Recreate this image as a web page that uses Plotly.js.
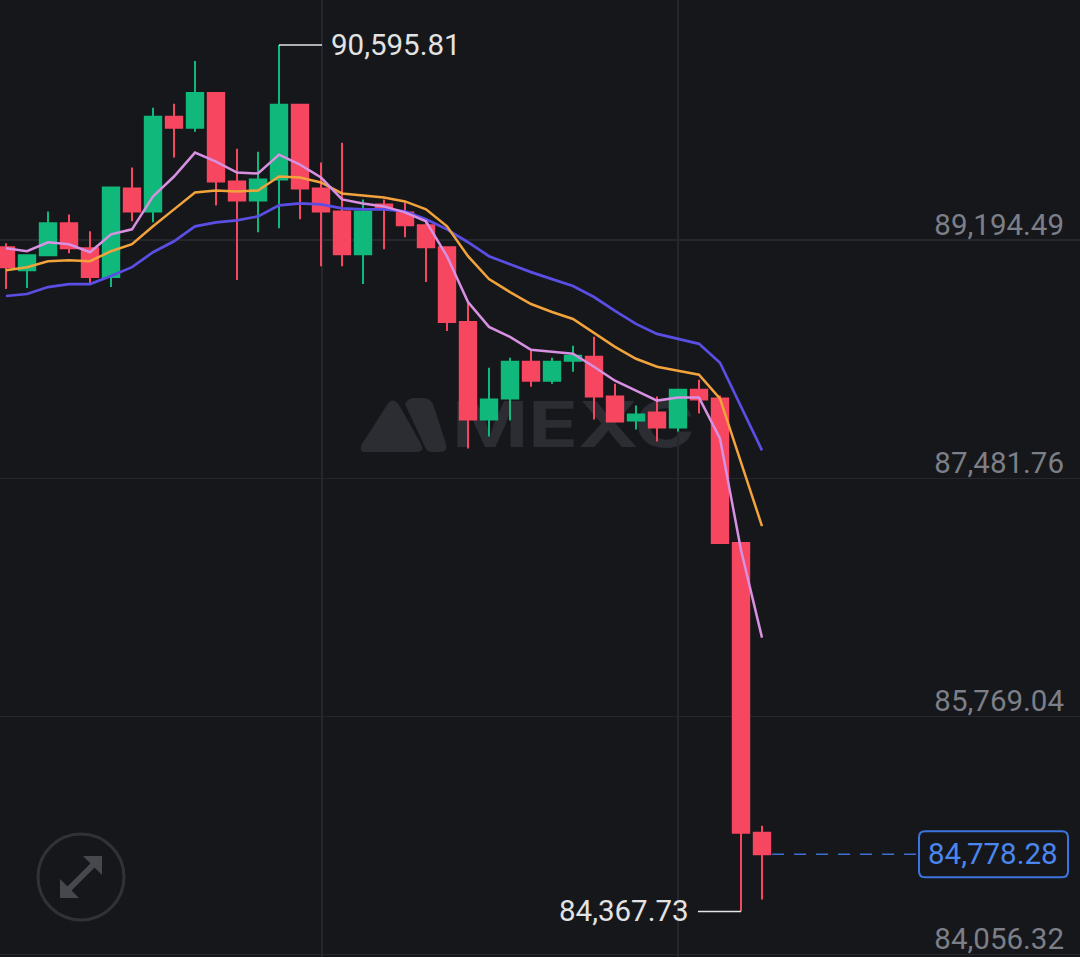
<!DOCTYPE html>
<html><head><meta charset="utf-8">
<script src="https://cdn.plot.ly/plotly-3.0.1.min.js"></script>
<style>
html,body{margin:0;padding:0;background:#16171b;width:1080px;height:957px;overflow:hidden;}
#bg{position:absolute;left:0;top:0;width:1080px;height:957px;}
#wmtext{position:absolute;left:452px;top:388px;font-family:Inter,'Noto Sans',sans-serif;font-weight:700;font-size:63px;line-height:72px;color:#2b2d32;transform:scaleX(1.3);transform-origin:left top;letter-spacing:0px;white-space:nowrap;}
#chart{position:absolute;left:0;top:0;width:1080px;height:957px;}
</style></head>
<body>
<div id="bg">
<svg width="1080" height="957" style="position:absolute;left:0;top:0">
  <path d="M366 452 L416 452 Q425 452 421 444 L399 405 Q393 396 387 405 L362 444 Q358 452 366 452 Z" fill="#2b2d32"/>
  <path d="M405 404 Q408 398 414 398 L423 398 Q430 398 433 404 L446 444 Q448 452 440 452 L432 452 Q427 452 425 447 Z" fill="#2b2d32"/>
  <circle cx="81" cy="877" r="43" fill="none" stroke="#303237" stroke-width="3"/>
  <line x1="69" y1="889" x2="93" y2="865" stroke="#46484e" stroke-width="6"/>
  <polygon points="60,898 60,879 79,898" fill="#46484e"/>
  <polygon points="102,856 83,856 102,875" fill="#46484e"/>
</svg>
<div id="wmtext">MEXC</div>
</div>
<div id="chart"></div>
<script>
// ---- data ----
const open  = [89142.6, 88977.9, 89085.3, 89314.4, 89135.4, 88927.8, 89564.9, 89400.3, 90080.4, 90001.6,
               90252.2, 89615.1, 89479.0, 89629.4, 90166.3, 89564.9, 89400.3, 89092.5, 89450.4, 89393.1,
               89300.1, 89142.6, 88605.6, 87904.1, 88054.4, 88319.3, 88183.3, 88326.4, 88355.1, 88068.7,
               87896.9, 87954.2, 87846.8, 88118.8, 88054.4, 87016.3, 84933.1];
const high  = [89171.2, 89085.3, 89400.3, 89378.8, 89257.1, 89579.3, 89715.3, 90144.8, 90173.5, 90481.3,
               90252.2, 89851.3, 89829.8, 90595.81, 90173.5, 89751.1, 89894.3, 89486.2, 89486.2, 89464.7,
               89350.2, 89142.6, 88748.8, 88276.3, 88347.9, 88398.0, 88347.9, 88433.8, 88498.3, 88161.8,
               88004.3, 88068.7, 88126.0, 88190.4, 88075.9, 87016.3, 84983.2];
const low   = [88841.9, 88849.0, 89078.0, 89099.6, 88877.7, 88856.2, 89328.7, 89321.5, 89786.9, 89973.0,
               89443.2, 88906.3, 89250.0, 89278.6, 89343.0, 89006.5, 89006.5, 88877.7, 89128.2, 89214.2,
               88892.0, 88541.2, 87696.4, 87782.4, 87896.9, 88140.3, 88161.8, 88247.7, 87904.1, 87889.7,
               87832.5, 87746.6, 87818.2, 87947.0, 87016.3, 84367.73, 84453.4];
const close = [88999.4, 89085.3, 89314.4, 89135.4, 88927.8, 89572.1, 89400.3, 90080.4, 90001.6, 90252.2,
               89615.1, 89479.0, 89629.4, 90166.3, 89564.9, 89400.3, 89092.5, 89400.3, 89421.8, 89300.1,
               89142.6, 88605.6, 87904.1, 88047.2, 88319.3, 88183.3, 88319.3, 88362.2, 88068.7, 87889.7,
               87939.9, 87846.8, 88118.8, 88047.2, 87016.3, 84933.1, 84778.28];
const maShort = [89135.4, 89113.9, 89178.4, 89164.0, 89106.8, 89235.6, 89271.4, 89507.7, 89650.9, 89822.7,
                 89758.2, 89679.5, 89672.3, 89808.4, 89736.8, 89643.7, 89486.2, 89457.6, 89436.1, 89393.1,
                 89328.7, 89078.1, 88748.8, 88569.8, 88498.3, 88405.2, 88390.9, 88376.6, 88283.5, 88183.3,
                 88111.7, 88040.1, 88061.6, 88061.6, 87768.0, 86966.2, 86336.2];
const maMid   = [88977.9, 88999.4, 89042.3, 89049.5, 89042.3, 89113.9, 89164.0, 89292.9, 89414.6, 89536.3,
                 89550.6, 89543.5, 89550.6, 89650.9, 89643.7, 89607.9, 89529.2, 89514.8, 89500.5, 89471.9,
                 89414.6, 89292.9, 89078.1, 88913.5, 88820.4, 88734.5, 88677.2, 88627.1, 88526.9, 88426.7,
                 88340.8, 88283.5, 88254.9, 88226.2, 88054.4, 87603.4, 87138.0];
const maLong  = [88791.8, 88806.1, 88856.2, 88877.7, 88877.7, 88935.0, 88999.4, 89106.8, 89185.5, 89292.9,
                 89321.5, 89335.9, 89364.5, 89443.2, 89457.6, 89450.4, 89421.8, 89414.6, 89414.6, 89400.3,
                 89343.0, 89271.4, 89178.4, 89078.1, 89020.9, 88963.6, 88913.5, 88863.4, 88784.6, 88684.4,
                 88591.3, 88519.7, 88483.9, 88448.1, 88312.1, 87997.1, 87682.1];
const priceTicks = [84056.32, 85769.04, 87481.76, 89194.49];

// ---- style ----
const RED = '#f7465f', GREEN = '#10b97b';
const fmt = v => v.toLocaleString('en-US', {minimumFractionDigits: 2, maximumFractionDigits: 2});
const idx = open.map((_, i) => i);
const last = idx.length - 1;
const hiVal = Math.max(...high), hiIdx = high.indexOf(hiVal);
const loVal = Math.min(...low), loIdx = low.indexOf(loVal);
const lastClose = close[last];
const FONT = 'Roboto, "Noto Sans", sans-serif';

const traces = [
  {type: 'candlestick', x: idx, open: open, high: high, low: low, close: close,
   increasing: {line: {color: GREEN, width: 2}, fillcolor: GREEN},
   decreasing: {line: {color: RED, width: 2}, fillcolor: RED},
   whiskerwidth: 0, hoverinfo: 'skip', showlegend: false},
  {type: 'scatter', mode: 'lines', x: idx, y: maLong, line: {color: '#5a4ee4', width: 2.7}, hoverinfo: 'skip', showlegend: false},
  {type: 'scatter', mode: 'lines', x: idx, y: maMid, line: {color: '#f2a33c', width: 2.5}, hoverinfo: 'skip', showlegend: false},
  {type: 'scatter', mode: 'lines', x: idx, y: maShort, line: {color: '#d890e2', width: 2.5}, hoverinfo: 'skip', showlegend: false}
];

const layout = {
  width: 1080, height: 957,
  margin: {l: 0, r: 0, t: 0, b: 0, pad: 0},
  paper_bgcolor: 'rgba(0,0,0,0)', plot_bgcolor: 'rgba(0,0,0,0)',
  boxgap: 0.22, boxgroupgap: 0,
  showlegend: false,
  xaxis: {range: [-6 / 21, 1074 / 21], rangeslider: {visible: false}, tickvals: [15.05, 32],
          showticklabels: false, showgrid: true, gridcolor: '#25272c', gridwidth: 1.5,
          zeroline: false, showline: false, ticks: '', fixedrange: true},
  yaxis: {range: [84040, 90920], side: 'right', tickvals: priceTicks, ticktext: priceTicks.map(fmt),
          ticklabelposition: 'inside top', ticks: '', ticklabelstandoff: 13, ticklabelshift: 5,
          tickfont: {family: FONT, size: 29.5, color: '#7c7f87'},
          showgrid: true, gridcolor: '#25272c', gridwidth: 1.5, zeroline: false, showline: false, fixedrange: true},
  shapes: [
    {type: 'line', xref: 'x', yref: 'y', x0: hiIdx, x1: hiIdx + 2.05, y0: hiVal, y1: hiVal,
     line: {color: '#e4e4e4', width: 1.5}},
    {type: 'line', xref: 'x', yref: 'y', x0: loIdx - 2.05, x1: loIdx, y0: loVal, y1: loVal,
     line: {color: '#e4e4e4', width: 1.5}},
    {type: 'line', xref: 'x', yref: 'y', x0: last + 0.48, x1: last + 7.4, y0: lastClose, y1: lastClose,
     line: {color: '#3c6fd2', width: 1.6, dash: '12px,10px'}},
    {type: 'path', xref: 'paper', yref: 'y', xsizemode: 'pixel', ysizemode: 'pixel', xanchor: 1, yanchor: lastClose,
     path: 'M -155,23 L -18,23 Q -12,23 -12,17 L -12,-17 Q -12,-23 -18,-23 L -155,-23 Q -161,-23 -161,-17 L -161,17 Q -161,23 -155,23 Z',
     line: {color: '#3c75de', width: 2}, fillcolor: 'rgba(0,0,0,0)'}
  ],
  annotations: [
    {xref: 'x', yref: 'y', x: hiIdx + 2.4, y: hiVal, text: fmt(hiVal), showarrow: false,
     xanchor: 'left', yanchor: 'middle', font: {family: FONT, size: 29.5, color: '#e3e3e3'}},
    {xref: 'x', yref: 'y', x: loIdx - 2.4, y: loVal, text: fmt(loVal), showarrow: false,
     xanchor: 'right', yanchor: 'middle', font: {family: FONT, size: 29.5, color: '#e3e3e3'}},
    {xref: 'paper', yref: 'y', x: 993 / 1080, y: lastClose, text: fmt(lastClose), showarrow: false,
     xanchor: 'center', yanchor: 'middle', font: {family: FONT, size: 29.5, color: '#4b86ee'}}
  ]
};

Plotly.newPlot('chart', traces, layout, {displayModeBar: false, staticPlot: true});
</script>
</body></html>
